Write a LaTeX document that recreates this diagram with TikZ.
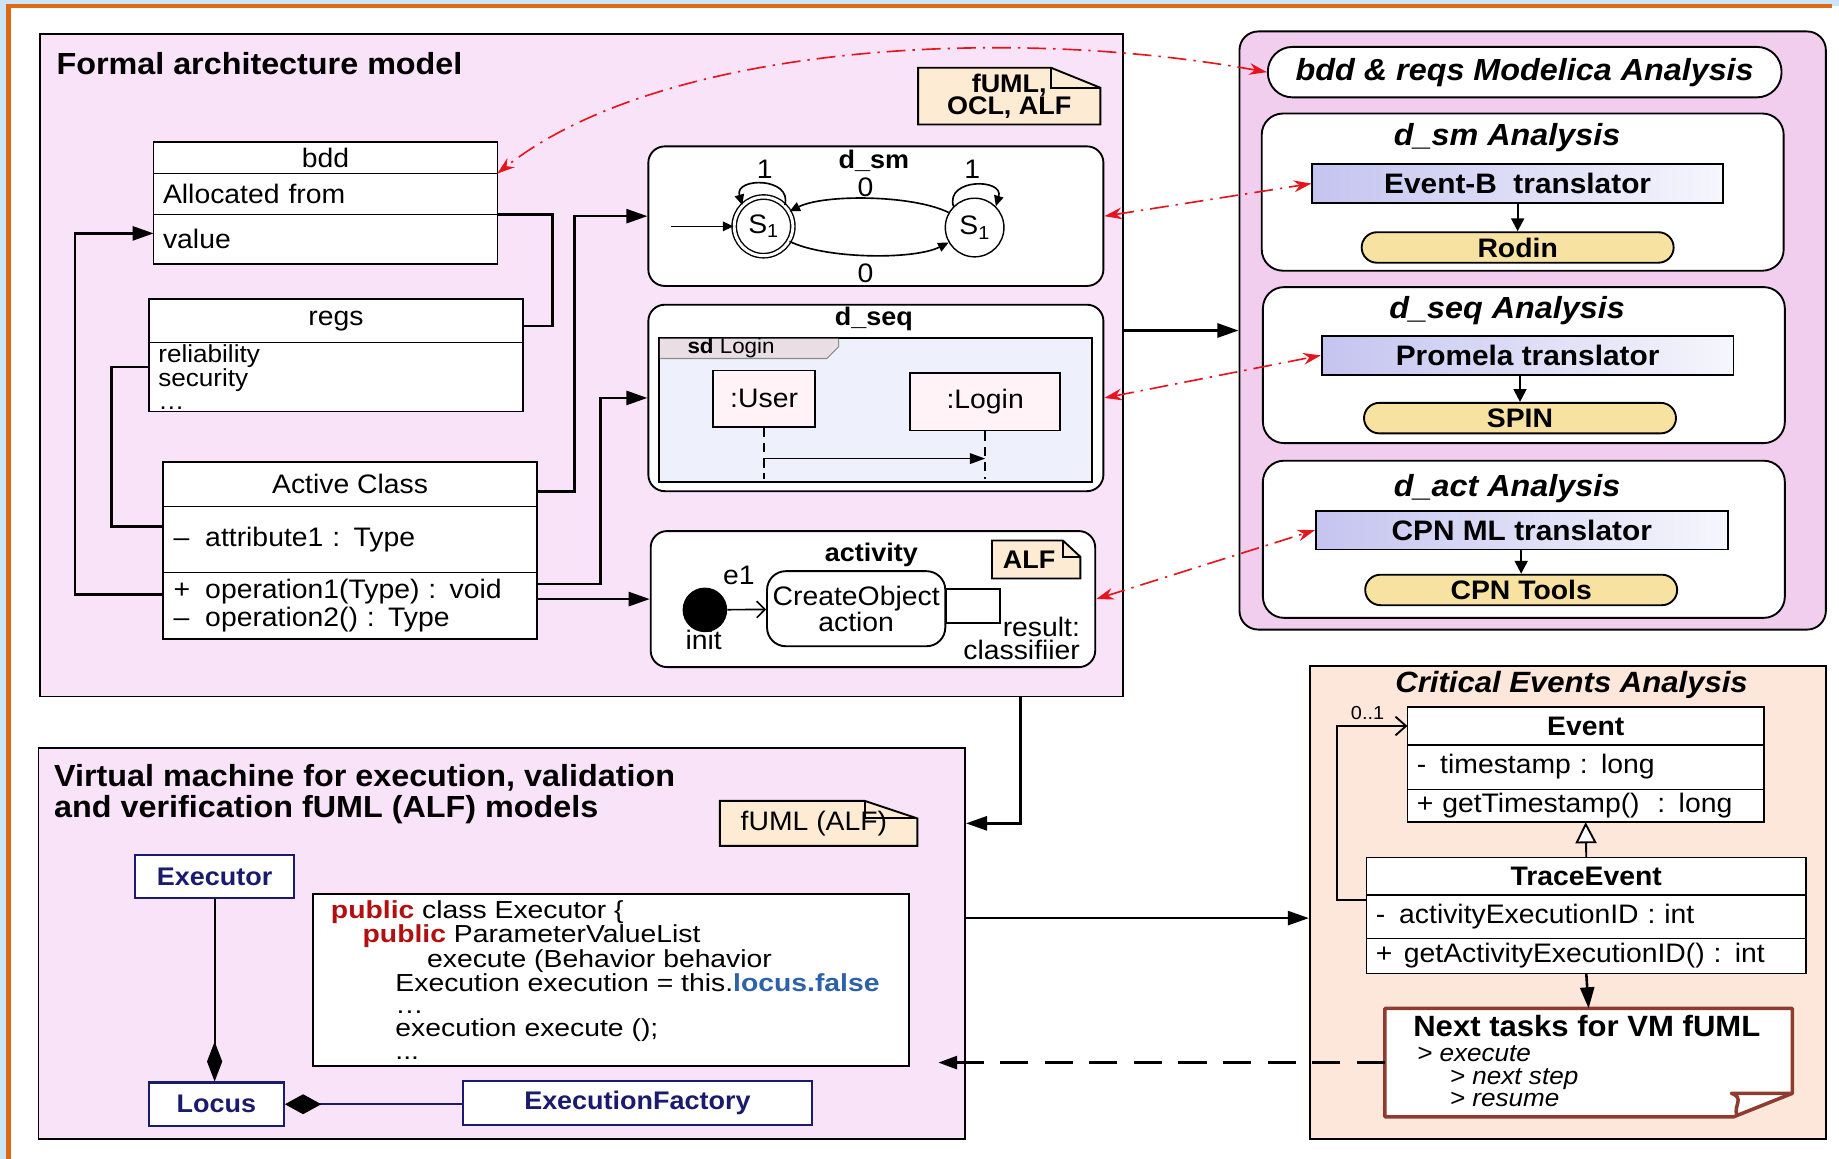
\documentclass[tikz,border=0pt]{standalone}
\usepackage{fontspec}
\setmainfont[FakeStretch=1.06]{Liberation Sans}
\newfontfamily\codefont[FakeStretch=1.15]{Liberation Sans}
\usetikzlibrary{positioning,calc,arrows.meta}

% colours of the figure
\definecolor{archpink}{RGB}{249,227,248}
\definecolor{anapink}{RGB}{241,206,238}
\definecolor{critpeach}{RGB}{252,231,218}
\definecolor{notebeige}{RGB}{253,235,211}
\definecolor{toolyellow}{RGB}{248,226,162}
\definecolor{translav}{RGB}{196,196,240}
\definecolor{seqlav}{RGB}{238,240,252}
\definecolor{seqtab}{RGB}{233,222,228}
\definecolor{lifepink}{RGB}{255,243,247}
\definecolor{vmnavy}{RGB}{26,26,110}
\definecolor{notebrown}{RGB}{142,60,48}
\definecolor{linkred}{RGB}{230,20,28}
\definecolor{kwred}{RGB}{176,16,16}
\definecolor{kwblue}{RGB}{46,98,168}
\definecolor{skyblue}{RGB}{204,228,248}
\definecolor{rimorange}{RGB}{222,104,20}

\newcommand\fsz[2]{\fontsize{#1}{#2}\selectfont}

\begin{document}
\begin{tikzpicture}[x=1pt, y=-1pt,
      panel/.style = {draw, line width=1.6pt, fill=archpink, anchor=north west},
      paneltitle/.style = {font=\bfseries\fsz{26}{27}, inner sep=0pt},
      diag/.style = {draw, line width=1.6pt, rounded corners=14pt, fill=white, anchor=north west},
      diagtitle/.style = {font=\bfseries\fsz{21.7}{23}, inner sep=0pt},
      txt/.style = {font=\fsz{22.8}{24}, inner sep=0pt},
      umlhead/.style = {draw, line width=1.3pt, fill=white, outer sep=0pt, inner sep=0pt,
         anchor=north, font=\fsz{22.8}{24}},
      umlrow/.style = {draw, line width=1.3pt, fill=white, outer sep=0pt, inner xsep=8pt,
         inner ysep=0pt, align=left, font=\fsz{22.8}{24}},
      notefill/.style = {fill=notebeige, inner sep=0pt, align=center},
      noteline/.style = {draw, line width=1.6pt},
      smstate/.style = {draw, circle, line width=1.2pt, fill=white, minimum size=50pt,
         inner sep=0pt, font=\fsz{22.8}{24}},
      smedge/.style = {line width=1.4pt, -{Triangle[length=9pt,width=8pt]}},
      toolarrow/.style = {line width=1.8pt, -{Triangle[length=11pt,width=11pt]}},
      lifebox/.style = {draw, line width=1.4pt, fill=lifepink, font=\fsz{22.8}{24}},
      lifeline/.style = {line width=1.6pt, dash pattern=on 8pt off 5pt},
      link/.style = {line width=2.2pt},
      linkto/.style = {link, -{Triangle[length=18pt,width=12pt]}},
      reddash/.style = {draw=linkred, line width=1.4pt, dash pattern=on 16pt off 6pt on 2pt off 6pt,
         {Stealth[length=15pt,width=10pt]}-{Stealth[length=15pt,width=10pt]}},
      anabox/.style = {draw, line width=1.6pt, rounded corners=18pt, fill=white,
         anchor=north west, minimum width=445pt},
      anatitle/.style = {font=\bfseries\itshape\fsz{26}{27}, inner sep=0pt},
      transbox/.style = {draw, line width=1.6pt, left color=translav, right color=translav!15,
         minimum width=350pt, minimum height=33pt, font=\bfseries\fsz{24}{25}},
      toolpill/.style = {draw, line width=1.6pt, fill=toolyellow, rounded corners=13pt,
         minimum width=266pt, minimum height=26pt, inner sep=0pt, font=\bfseries\fsz{22.8}{24}},
      vmclass/.style = {draw=vmnavy, line width=1.8pt, fill=white, text=vmnavy,
         minimum height=37pt, inner sep=0pt, font=\bfseries\fsz{21.7}{23}},
      compose/.style = {line width=1.8pt},
      taskline/.style = {draw=notebrown, line width=3pt, line join=round},
]

   \useasboundingbox (0,0) rectangle (1568,988);
   \fill[skyblue] (0,0) rectangle (1568,988);
   \fill[white] (7,5) rectangle (1568,988);
   \draw[rimorange, line width=4pt] (7,988) -- (7,5) -- (1562,5);

   % the four panels
   \node[panel, minimum width=924pt, minimum height=565pt] (arch) at (33,28) {};
   \node[panel, fill=anapink, rounded corners=16pt, minimum width=500pt, minimum height=510pt] (anal) at (1056,26) {};
   \node[panel, minimum width=790pt, minimum height=333pt] (vm) at (32,637) {};
   \node[panel, fill=critpeach, minimum width=440pt, minimum height=403pt] (crit) at (1116,567) {};

   % formal architecture model
   \node[paneltitle, anchor=west] (archtitle) at (48,54) {Formal architecture model};

   \node[notefill, minimum width=155pt, minimum height=48pt, font=\bfseries\fsz{21.7}{19}] (umlnote) at (860.5,82) {fUML,\\OCL, ALF};
   \fill[archpink] ($(umlnote.north east)+(-42,0)$) -- (umlnote.north east) -- ($(umlnote.north east)+(0,17)$) -- cycle;
   \draw[noteline] (umlnote.south west) |- ($(umlnote.north east)+(-42,0)$) -- ($(umlnote.north east)+(0,17)$) -- (umlnote.south east) -- cycle;
   \draw[noteline] ($(umlnote.north east)+(-42,0)$) |- ($(umlnote.north east)+(0,17)$);

   % bdd block
   \node[umlhead, minimum width=293pt, minimum height=27pt] (bdd) at (277.5,121) {bdd};
   \node[umlrow, text width=277pt, minimum height=35pt, below=0pt of bdd] (bddalloc) {Allocated from};
   \node[umlrow, text width=277pt, minimum height=42pt, below=0pt of bddalloc] (bddval) {value};

   % requirements block
   \node[umlhead, minimum width=319pt, minimum height=37pt] (regs) at (286.5,255) {regs};
   \node[umlrow, text width=303pt, minimum height=59pt, below=0pt of regs, font=\fsz{21}{19}] (regsbody) {reliability\\security\\\ldots};

   % active class
   \node[umlhead, minimum width=319pt, minimum height=38pt] (achead) at (298.5,394) {Active Class};
   \node[umlrow, text width=301pt, inner xsep=9pt, minimum height=56pt, below=0pt of achead] (acattr) {\makebox[27pt][l]{--}attribute1 : Type};
   \node[umlrow, text width=301pt, inner xsep=9pt, minimum height=57pt, below=0pt of acattr, font=\fsz{22.8}{24}] (acop) {\makebox[27pt][l]{+}operation1(Type) : void\\\makebox[27pt][l]{--}operation2() : Type};

   % state machine
   \node[diag, minimum width=388pt, minimum height=119pt] (dsm) at (552,124) {};
   \node[diagtitle] (dsmtitle) at (745,137) {d\_sm};
   \node[smstate, double, double distance=2.5pt] (sone) at (651,193) {S\textsubscript{1}};
   \node[smstate] (stwo) at (831,194) {S\textsubscript{1}};
   \coordinate (smstart) at (572,193);
   \draw[smedge] (smstart) -- (sone);
   \draw[smedge] (sone.45) .. controls +(7,-24) and +(-7,-24) .. (sone.135);
   \draw[smedge] (stwo.135) .. controls +(-7,-24) and +(7,-24) .. (stwo.45);
   \draw[smedge] (stwo.150) .. controls +(-30,-15) and +(30,-15) .. (sone.30);
   \draw[smedge] (sone.-30) .. controls +(30,15) and +(-30,15) .. (stwo.-150);
   \node[txt] (loopone) at (652,144) {1};
   \node[txt] (looptwo) at (829,144) {1};
   \node[txt] (upzero) at (738,160) {0};
   \node[txt] (lowzero) at (738,233) {0};

   % sequence diagram
   \node[diag, minimum width=388pt, minimum height=159pt] (dseq) at (552,259) {};
   \node[diagtitle] (dseqtitle) at (745,272) {d\_seq};
   \node[draw, line width=1.3pt, fill=seqlav, outer sep=0pt, anchor=north west, minimum width=369pt, minimum height=123pt] (sdframe) at (562,288) {};
   \fill[seqtab] ($(sdframe.north west)+(0.7,0.7)$) -- ++(152,0) -- ++(0,7) -- ++(-10,10) -- ++(-142,0) -- cycle;
   \draw[black!45, line width=1pt] ($(sdframe.north west)+(153,0.7)$) -- ++(0,7) -- ++(-10,10) -- ++(-142,0);
   \node[anchor=west, font=\fsz{18}{20}, inner sep=0pt] (sdlabel) at ($(sdframe.north west)+(24,9)$) {\textbf{sd} Login};
   \node[lifebox, minimum width=87pt, minimum height=48pt] (user) at (651.5,340) {:User};
   \node[lifebox, minimum width=128pt, minimum height=49pt] (login) at (840,342.5) {:Login};
   \coordinate (seqbottom) at (0,408);
   \coordinate (msgline) at (0,391);
   \draw[lifeline] (user.south) -- (user.south |- seqbottom);
   \draw[lifeline] (login.south) -- (login.south |- seqbottom);
   \draw[line width=1.4pt, -{Triangle[length=13pt,width=9pt]}] (user.south |- msgline) -- (login.south |- msgline);

   % activity
   \node[diag, minimum width=379pt, minimum height=116pt] (act) at (554,452) {};
   \node[diagtitle] (acttitle) at (743,473) {activity};
   \node[notefill, minimum width=75pt, minimum height=32pt, font=\bfseries\fsz{21.7}{23}] (alfnote) at (883.5,477) {ALF\hspace*{12pt}};
   \fill[white] ($(alfnote.north east)+(-15,0)$) -- (alfnote.north east) -- ($(alfnote.north east)+(0,14)$) -- cycle;
   \draw[noteline] (alfnote.south west) |- ($(alfnote.north east)+(-15,0)$) -- ($(alfnote.north east)+(0,14)$) -- (alfnote.south east) -- cycle;
   \draw[noteline] ($(alfnote.north east)+(-15,0)$) |- ($(alfnote.north east)+(0,14)$);
   \node[circle, fill=black, minimum size=38pt, inner sep=0pt] (init) at (601,520) {};
   \node[txt] (initlabel) at (600,546) {init};
   \node[txt] (eone) at (630,491) {e1};
   \node[draw, line width=1.6pt, rounded corners=16pt, fill=white, minimum width=152pt, minimum height=64pt, align=center, font=\fsz{22.8}{22}] (create) at (730,519) {CreateObject\\action};
   \node[draw, line width=1.6pt, fill=white, minimum width=46pt, minimum height=29pt, anchor=west, outer sep=0pt] (pin) at ($(create.east)+(0,-2.5)$) {};
   \node[txt, anchor=north east, align=right, font=\fsz{22.8}{20}] (result) at (921,526) {result:\\classifiier};
   \draw[line width=1.4pt, -{Straight Barb[length=7pt,width=14pt]}] (init) -- (create);

   % links inside the model
   \draw[link] (bddval.north east) -- ++(47,0) |- ($(regs.east)+(0,4.5)$);
   \draw[linkto] ($(acop.west)+(0,-9.5)$) -- ++(-75,0) |- ($(bddval.west)+(0,-5)$);
   \draw[link] ($(regsbody.west)+(0,-8.5)$) -- ++(-32,0) |- ($(acattr.west)+(0,-11)$);
   \draw[linkto] ($(achead.east)+(0,6)$) -- ++(32,0) |- (dsm.west);
   \draw[linkto] ($(acop.east)+(0,-18.5)$) -- ++(54,0) |- (dseq.west);
   \draw[linkto] (acop.east |- act.west) -- (act.west);

   % analysis tools
   \node[draw, line width=1.6pt, fill=white, rounded corners=21pt, minimum width=438pt, minimum height=43pt, font=\bfseries\itshape\fsz{26}{27}] (modelica) at (1300,61.5) {bdd \& reqs Modelica Analysis};

   \node[anabox, minimum height=134pt] (smana) at (1075,96) {};
   \node[anatitle] (smanatitle) at (1285,117) {d\_sm Analysis};
   \node[transbox] (smtrans) at (1294,156.5) {Event-B\ \ translator};
   \node[toolpill] (rodin) at (1294,211) {Rodin};
   \draw[toolarrow] (rodin |- smtrans.south) -- (rodin.north);

   \node[anabox, minimum height=133pt] (seqana) at (1076,244) {};
   \node[anatitle] (seqanatitle) at (1285,265) {d\_seq Analysis};
   \node[transbox, minimum width=351pt] (seqtrans) at (1302.5,303) {Promela translator};
   \node[toolpill] (spin) at (1296,356.5) {SPIN};
   \draw[toolarrow] (spin |- seqtrans.south) -- (spin.north);

   \node[anabox, minimum height=134pt] (actana) at (1076,392) {};
   \node[anatitle] (actanatitle) at (1285,417) {d\_act Analysis};
   \node[transbox, minimum width=351pt] (acttrans) at (1297.5,452) {CPN ML translator};
   \node[toolpill] (cpntools) at (1297,503) {CPN Tools};
   \draw[toolarrow] (cpntools |- acttrans.south) -- (cpntools.north);

   % virtual machine
   \node[paneltitle, anchor=west, align=left] (vmtitle) at (46,677) {Virtual machine for execution, validation\\and verification fUML (ALF) models};

   \node[notefill, minimum width=168pt, minimum height=38pt, font=\fsz{22.8}{24}] (vmnote) at (698,702) {fUML (ALF)\hspace*{8pt}};
   \fill[archpink] ($(vmnote.north east)+(-45,0)$) -- (vmnote.north east) -- ($(vmnote.north east)+(0,15)$) -- cycle;
   \draw[noteline] (vmnote.south west) |- ($(vmnote.north east)+(-45,0)$) -- ($(vmnote.north east)+(0,15)$) -- (vmnote.south east) -- cycle;
   \draw[noteline] ($(vmnote.north east)+(-45,0)$) |- ($(vmnote.north east)+(0,15)$);

   \node[vmclass, minimum width=136pt] (executor) at (183,747.5) {Executor};
   \node[vmclass, minimum width=115pt] (locus) at (184.5,941.5) {Locus};
   \node[vmclass, minimum width=297pt] (factory) at (543.5,940.5) {ExecutionFactory};
   \draw[compose, -{Diamond[length=34pt,width=13pt]}] (executor.south) -- (executor.south |- locus.north);
   \draw[compose, vmnavy, -{Diamond[length=31pt,width=17pt,color=black]}] (factory.west |- locus.east) -- (locus.east);

   \node[draw, line width=1.6pt, fill=white, minimum width=508pt, minimum height=147pt] (codebox) at (521,835.5) {};
   \node[anchor=north west, align=left, inner sep=3pt, font=\codefont\fsz{21}{19.3}] (code) at (279,765) {%
      \textcolor{kwred}{\textbf{public}} class Executor \{\\
      \hspace*{27pt}\textcolor{kwred}{\textbf{public}} ParameterValueList\\
      \hspace*{82pt}execute (Behavior behavior\\
      \hspace*{55pt}Execution execution = this.\textcolor{kwblue}{\textbf{locus.false}}\\
      \hspace*{55pt}\ldots\\
      \hspace*{55pt}execution execute ();\\
      \hspace*{55pt}...};

   % critical events
   \node[anatitle, font=\bfseries\itshape\fsz{25}{26}] (crittitle) at (1340,584) {Critical Events Analysis};

   \node[umlhead, minimum width=304pt, minimum height=32pt, font=\bfseries\fsz{22.8}{24}] (event) at (1352,603) {Event};
   \node[umlrow, text width=288pt, minimum height=38pt, below=0pt of event] (evattr) {\makebox[20pt][l]{-}timestamp : long};
   \node[umlrow, text width=288pt, minimum height=28pt, below=0pt of evattr] (evop) {+ getTimestamp()\ \ : long};

   \node[umlhead, minimum width=375pt, minimum height=32pt, font=\bfseries\fsz{22.8}{24}] (trace) at (1352.5,731) {TraceEvent};
   \node[umlrow, text width=359pt, minimum height=37pt, below=0pt of trace] (trattr) {\makebox[20pt][l]{-}activityExecutionID : int};
   \node[umlrow, text width=359pt, minimum height=30pt, below=0pt of trattr] (trop) {\makebox[24pt][l]{+}getActivityExecutionID() : int};

   \draw[line width=1.6pt, -{Triangle[length=18pt,width=18pt,fill=white]}] (trace.north) -- (evop.south);
   \draw[line width=1.6pt, -{Straight Barb[length=9pt,width=16pt]}] ($(trattr.west)+(0,-14.5)$) -- ++(-25,0) |- (event.west);
   \node[font=\fsz{16}{18}, inner sep=0pt] (mult) at ($(event.west)+(-34,-11)$) {0..1};

   % next tasks note
   \node[fill=white, inner sep=0pt, minimum width=347pt, minimum height=92pt] (nexttasks) at (1354.5,906) {};
   \fill[critpeach] ($(nexttasks.south east)+(0,-20)$) -- (nexttasks.south east) -- ($(nexttasks.south east)+(-50,0)$) -- cycle;
   \draw[taskline] (nexttasks.north west) -- (nexttasks.north east) -- ($(nexttasks.south east)+(0,-20)$) -- ($(nexttasks.south east)+(-50,0)$) -- (nexttasks.south west) -- cycle;
   \draw[taskline] ($(nexttasks.south east)+(0,-20)$) -- ++(-52,0) .. controls +(12,4) and +(-4,-8) .. ($(nexttasks.south east)+(-47,-1)$);
   \node[font=\bfseries\fsz{25}{26}, inner sep=0pt] (nexttitle) at (1353,875) {Next tasks for VM fUML};
   \node[anchor=north west, align=left, inner sep=0pt, font=\itshape\fsz{21}{19.5}] (nextlist) at (1208,891) {> execute\\\hspace*{28pt}> next step\\\hspace*{28pt}> resume};
   \draw[linkto] (trop.south) -- (nexttasks.north);

   % flows between panels
   \draw[linkto] ($(arch.east)+(0,-29.5)$) coordinate (archout) -- (archout -| anal.west);
   \draw[linkto] ($(arch.south west)+(837,0)$) coordinate (archdown) |- (vmnote -| vm.east);
   \draw[linkto] ($(vm.east)+(0,-21.5)$) coordinate (vmout) -- (vmout -| crit.west);
   \coordinate (taskend) at (800,906);
   \draw[line width=2.4pt, dash pattern=on 24pt off 14pt, -{Triangle[length=16pt,width=11pt]}] (nexttasks.west) -- (taskend);

   % model to analysis links
   \draw[reddash] (modelica.west) .. controls (850,20) and (560,40) .. (bdd.south east);
   \draw[reddash] (dsm.east) -- (smtrans.west);
   \draw[reddash] (dseq.east) -- (seqtrans.west);
   \draw[reddash] (act.east) -- (acttrans.west);

\end{tikzpicture}
\end{document}
